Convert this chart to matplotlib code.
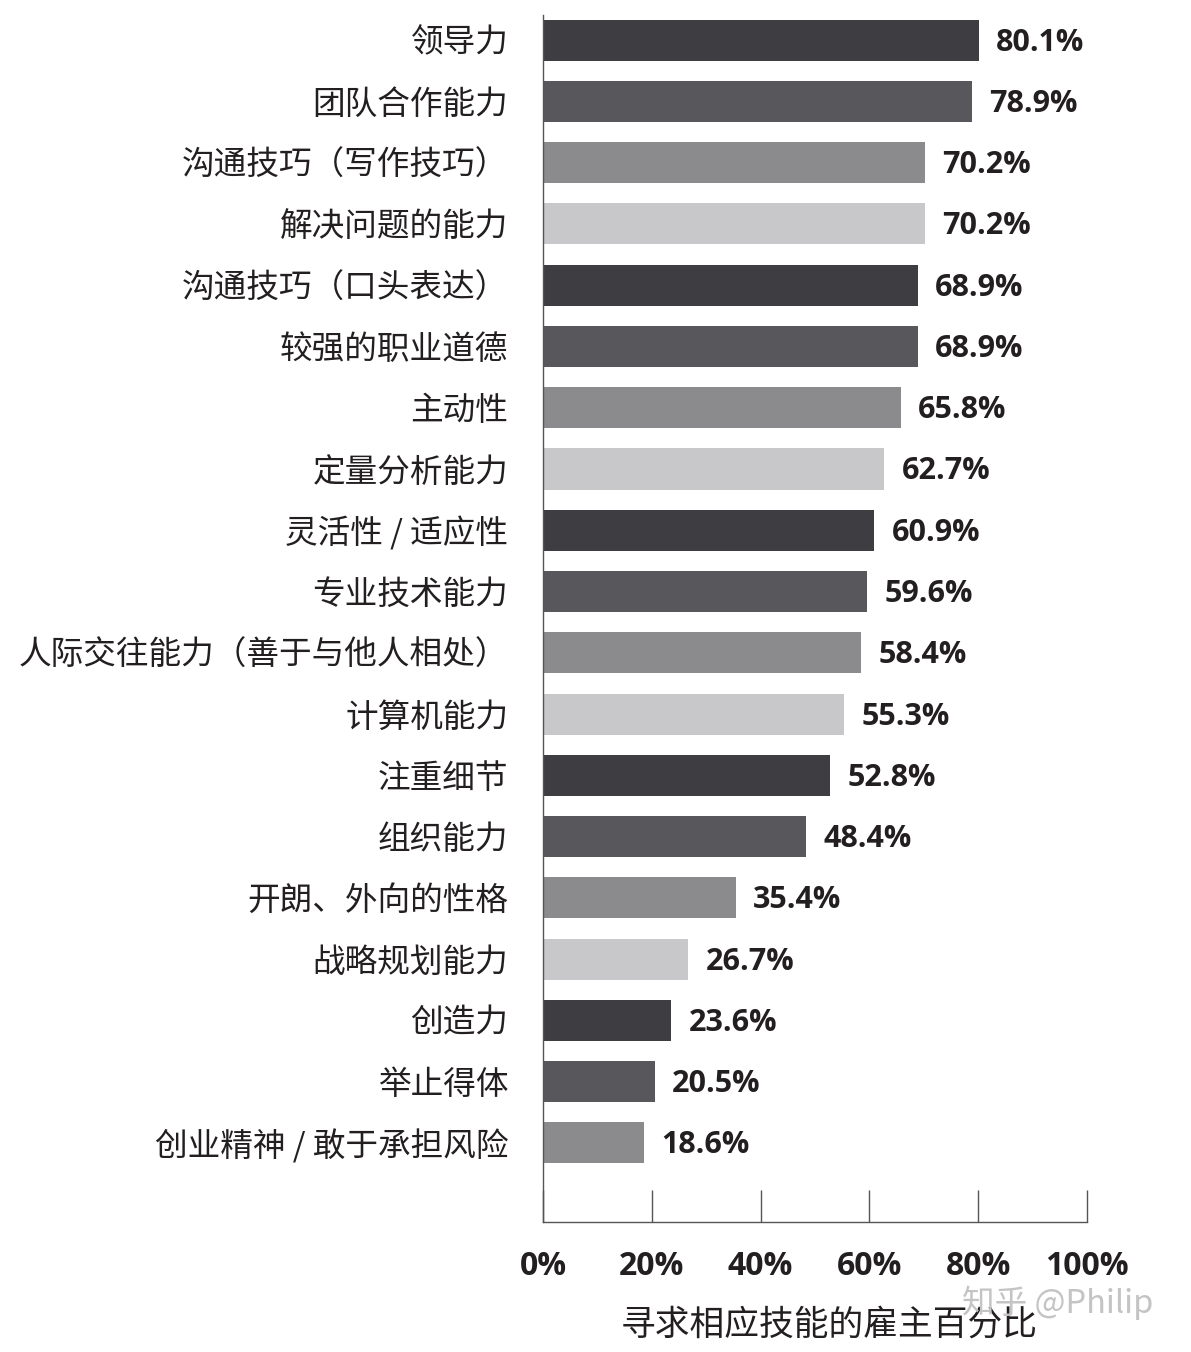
import matplotlib
matplotlib.use("Agg")
import matplotlib.pyplot as plt

plt.rcParams['font.family'] = ['Noto Sans CJK SC', 'DejaVu Sans']

skills = ['领导力', '团队合作能力', '沟通技巧（写作技巧）', '解决问题的能力',
          '沟通技巧（口头表达）', '较强的职业道德', '主动性', '定量分析能力',
          '灵活性 / 适应性', '专业技术能力', '人际交往能力（善于与他人相处）',
          '计算机能力', '注重细节', '组织能力', '开朗、外向的性格', '战略规划能力',
          '创造力', '举止得体', '创业精神 / 敢于承担风险']
percent = [80.1, 78.9, 70.2, 70.2, 68.9, 68.9, 65.8, 62.7, 60.9, 59.6,
           58.4, 55.3, 52.8, 48.4, 35.4, 26.7, 23.6, 20.5, 18.6]
xticks = [0, 20, 40, 60, 80, 100]
xlabel = '寻求相应技能的雇主百分比'

palette = ['#3e3d41', '#58585c', '#8b8b8e', '#c8c8ca']
txt = '#231f20'

fig = plt.figure(figsize=(11.91, 13.52), dpi=100)
ax = fig.add_axes([543/1191, 1 - 1222/1352, 544/1191, 1207/1352])

pos = list(range(len(skills)))
cols = [palette[i % 4] for i in pos]
ax.barh(pos, percent, height=0.67, color=cols)

for i, v in zip(pos, percent):
    ax.text(v + 3.2, i + 0.04, '%.1f%%' % v, va='center', ha='left', fontsize=22,
            fontweight='bold', color=txt, family=['Open Sans', 'DejaVu Sans'])

ax.set_xlim(0, 100)
ax.set_ylim(len(skills) - 1 + 1.29, -0.41)
ax.set_yticks(pos)
ax.set_yticklabels(skills, fontsize=23.5, color=txt)
ax.tick_params(axis='y', length=0, pad=25)
ax.set_xticks(xticks)
ax.set_xticklabels(['%d%%' % t for t in xticks], fontsize=23, fontweight='bold',
                   color=txt, family=['Open Sans', 'DejaVu Sans'])
ax.tick_params(axis='x', direction='in', length=23, width=1, color='#555555', pad=20)
for s in ['top', 'right']:
    ax.spines[s].set_visible(False)
for s in ['left', 'bottom']:
    ax.spines[s].set_color('#555555')
    ax.spines[s].set_linewidth(1)

fig.text(829/1191, 1 - 1325/1352, xlabel, ha='center', va='center', fontsize=25, color=txt)
fig.text(1058/1191, 1 - 1303/1352, '知乎 @Philip', ha='center', va='center',
         fontsize=23.5, color='#c4c4c4', family=['Noto Sans CJK SC', 'DejaVu Sans'])

fig.savefig('out.png', dpi=100)
